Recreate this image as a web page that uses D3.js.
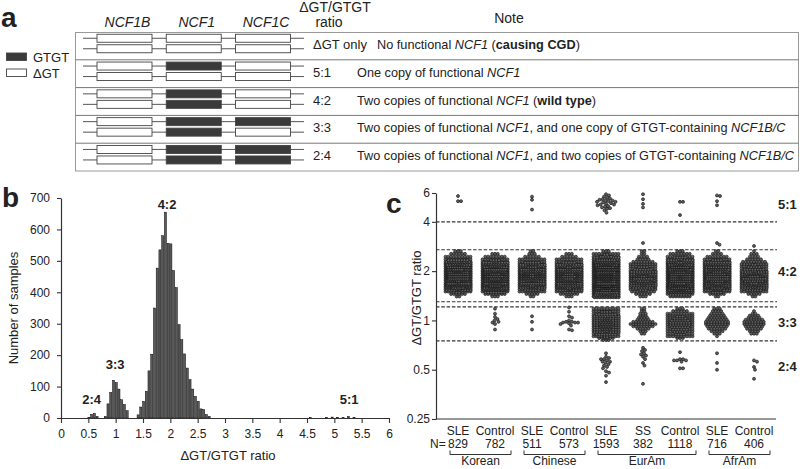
<!DOCTYPE html>
<html><head><meta charset="utf-8">
<script src="https://cdn.jsdelivr.net/npm/d3@7"></script>
<style>
html,body{margin:0;padding:0;background:#fff;}
svg{display:block;font-family:"Liberation Sans",Arial,Helvetica,sans-serif;}
</style></head><body>
<svg id="fig" width="800" height="469"></svg>
<script>
// ================= DATA =================
// Panel a
const genes = ["NCF1B", "NCF1", "NCF1C"];
const ratioLabels = ["ΔGT only", "5:1", "4:2", "3:3", "2:4"];
const gtgtCopies = [[0,0,0],[0,1,0],[0,2,0],[0,2,1],[0,2,2]];
const legendItems = ["GTGT", "ΔGT"];
const notes = [
  [["No functional ",""],["NCF1","i"],[" (",""],["causing CGD","b"],[")",""]],
  [["One copy of functional ",""],["NCF1","i"]],
  [["Two copies of functional ",""],["NCF1","i"],[" (",""],["wild type","b"],[")",""]],
  [["Two copies of functional ",""],["NCF1","i"],[", and one copy of GTGT-containing ",""],["NCF1B/C","i"]],
  [["Two copies of functional ",""],["NCF1","i"],[", and two copies of GTGT-containing ",""],["NCF1B/C","i"]]
];

// Panel b (histogram, bins of 0.05)
const histRatio = [0.51,0.56,0.61,0.66,
  0.81,0.86,0.91,0.96,1.01,1.06,1.11,1.16,1.21,
  1.41,1.46,1.51,1.56,1.61,1.66,1.71,1.76,1.81,1.86,1.91,1.96,2.01,2.06,2.11,2.16,2.21,2.26,2.31,2.36,2.41,2.46,2.51,2.56,2.61,2.66,2.71,
  4.56,4.86,4.96,5.06,5.16,5.26,5.36];
const histCount = [2,12,15,5,
  5,45,81,120,113,92,58,43,23,
  10,35,53,85,150,203,350,477,535,580,655,556,554,469,415,297,249,204,159,122,92,69,53,29,27,11,5,
  1,2,3,2,1,5,2];
const histXTicks = [0,0.5,1,1.5,2,2.5,3,3.5,4,4.5,5,5.5,6];
const histYTicks = [0,100,200,300,400,500,600,700];
const histLabels = ["2:4","3:3","4:2","5:1"];
const histLabelRatio = [0.56, 0.99, 1.94, 5.27];
const histLabelCount = [43, 156, 665, 43];

// Panel c
const groupLabels = ["SLE","Control","SLE","Control","SLE","SS","Control","SLE","Control"];
const sampleN = [829,782,511,573,1593,382,1118,716,406];
const cohorts = ["Korean","Chinese","EurAm","AfrAm"];
const cohortFirst = [0,2,4,7];
const cohortLast = [1,3,6,8];
const yTicksC = [0.25,0.5,1,2,4,6];
const cutoffs = [4, 2.7, 1.3, 1.21, 0.75];
const bandLabels = ["5:1","4:2","3:3","2:4"];
const bandLabelRatio = [5.08, 2.0, 0.97, 0.52];

// rows of the 4:2 swarms (ratio levels) and counts per group
const levels42 = [1.40,1.45,1.50,1.55,1.60,1.65,1.70,1.76,1.82,1.88,1.94,2.00,2.07,2.14,2.21,2.28,2.36,2.45,2.55,2.65];
const koreanSLE42   = [2,6,12,22,35,50,62,72,80,80,80,85,75,60,45,30,18,10,6,3];
const koreanCtl42   = [3,8,18,30,45,55,65,70,75,78,75,70,60,45,30,22,14,8,3,0];
const chineseSLE42  = [2,5,10,16,24,32,40,45,50,52,52,48,42,34,24,16,10,6,3,2];
const chineseCtl42  = [3,7,14,22,32,40,46,50,54,56,54,50,42,32,22,15,10,6,3,0];
const eurSLE42      = [30,45,60,75,85,95,100,105,110,110,108,100,90,78,65,50,38,25,12,3];
const eurSS42       = [3,6,9,13,18,22,28,35,38,32,25,20,17,14,10,8,5,4,2,2];
const eurCtl42      = [8,18,30,45,58,68,75,80,82,82,80,75,68,58,45,32,22,15,8,3];
const afrSLE42      = [2,6,14,24,35,45,52,56,60,60,58,54,48,40,30,20,14,8,4,2];
const afrCtl42      = [2,5,10,16,22,27,33,38,40,34,27,22,18,15,12,9,6,4,3,1];
// rows of the 3:3 swarms
const levels33 = [0.76,0.78,0.80,0.83,0.86,0.89,0.92,0.95,0.98,1.01,1.04,1.07,1.10,1.14,1.18];
const eurSLE33 = [3,6,12,18,22,24,25,26,25,24,22,20,18,14,10];
const eurSS33  = [0,0,0,2,3,5,8,10,8,5,4,3,3,2,2];
const eurCtl33 = [0,3,10,14,15,16,17,18,18,17,15,13,10,6,3];
const afrSLE33 = [0,0,1,3,5,7,8,9,9,8,7,6,5,4,3];
const afrCtl33 = [0,0,0,3,4,6,7,8,8,7,5,4,2,1,0];
const none33   = [0,0,0,0,0,0,0,0,0,0,0,0,0,0,0];
// individual (sparse) points: 5:1, outliers, 2:4 and small 3:3 groups
const koreanSLEpts  = [5.75,5.35,5.35];
const koreanCtlpts  = [1.18,1.1,1.05,1.02,1.0,0.98,0.97,0.95,0.88];
const chineseSLEpts = [5.7,5.45,4.75,1.06,0.98,0.88];
const chineseCtlpts = [1.2,1.13,1.06,1.04,1.0,0.98,0.98,0.97,0.97,0.97,0.96,0.95,0.93,0.88,0.87];
const eurSLEpts = [5.9,5.8,5.7,5.6,5.55,5.5,5.45,5.4,5.4,5.35,5.3,5.3,5.25,5.2,5.15,5.1,5.1,5.05,5.0,4.95,4.9,4.85,4.8,4.7,4.55,
  0.63,0.60,0.59,0.58,0.58,0.57,0.56,0.56,0.55,0.54,0.53,0.52,0.51,0.49,0.48,0.46,0.42];
const eurSSpts  = [5.9,5.5,5.15,4.9,2.97,0.68,0.66,0.65,0.63,0.62,0.61,0.60,0.58,0.55,0.53,0.41];
const eurCtlpts = [5.3,5.3,4.4,0.64,0.58,0.58,0.57,0.57,0.57,0.56,0.51,0.51];
const afrSLEpts = [5.8,5.75,5.35,5.05,2.97,2.9,0.63,0.55,0.50];
const afrCtlpts = [2.85,0.57,0.56,0.52,0.50,0.44];

const counts42 = [koreanSLE42,koreanCtl42,chineseSLE42,chineseCtl42,eurSLE42,eurSS42,eurCtl42,afrSLE42,afrCtl42];
const counts33 = [none33,none33,none33,none33,eurSLE33,eurSS33,eurCtl33,afrSLE33,afrCtl33];
const sparsePts = [koreanSLEpts,koreanCtlpts,chineseSLEpts,chineseCtlpts,eurSLEpts,eurSSpts,eurCtlpts,afrSLEpts,afrCtlpts];

// ================= DRAW =================
const svg = d3.select("#fig");
const ink = "#222";
const axisCol = "#333";
svg.append("rect").attr("width",800).attr("height",469).attr("fill","#fff");

function panelLetter(t, x, y) {
  svg.append("text").attr("x", x).attr("y", y).attr("font-size", 28)
    .attr("font-weight", "bold").attr("fill", ink).text(t);
}

// ---------- Panel a ----------
panelLetter("a", 1, 27);
const ga = svg.append("g");
const gx = d3.scalePoint().domain(genes).range([124.5, 263]);
const rowB = d3.scaleBand().domain(d3.range(ratioLabels.length)).range([32, 171]);
const boxW = 55, boxH = 8;

genes.forEach(g => {
  ga.append("text").attr("x", gx(g) + 3).attr("y", 27).attr("text-anchor", "middle")
    .attr("font-size", 14).attr("font-style", "italic").attr("fill", ink).text(g);
});
ga.append("text").attr("x", 335).attr("y", 12).attr("text-anchor", "middle")
  .attr("font-size", 14).attr("fill", ink).text("ΔGT/GTGT");
ga.append("text").attr("x", 329).attr("y", 27).attr("text-anchor", "middle")
  .attr("font-size", 14).attr("fill", ink).text("ratio");
ga.append("text").attr("x", 509).attr("y", 23).attr("text-anchor", "middle")
  .attr("font-size", 14).attr("fill", ink).text("Note");

// legend
legendItems.forEach((t, i) => {
  const y = i === 0 ? 53 : 69;
  ga.append("rect").attr("x", 6.5).attr("y", y).attr("width", 20).attr("height", 7.5)
    .attr("fill", i === 0 ? "#3a3a3a" : "#fff").attr("stroke", "#444").attr("stroke-width", 0.9);
  ga.append("text").attr("x", 33).attr("y", y + 9).attr("font-size", 13).attr("fill", ink).text(t);
});

// table frame
ga.append("rect").attr("x", 75.5).attr("y", 32.5).attr("width", 723).attr("height", 138.5)
  .attr("fill", "none").attr("stroke", "#999").attr("stroke-width", 1);
d3.range(1, ratioLabels.length).forEach(i => {
  ga.append("line").attr("x1", 75.5).attr("x2", 798.5).attr("y1", rowB(i)).attr("y2", rowB(i))
    .attr("stroke", "#777").attr("stroke-width", 1);
});

const noteNodes = [];
ratioLabels.forEach((lab, i) => {
  const top = rowB(i);
  const yc = top + 11.5;
  [yc - 5.25, yc + 5.25].forEach((ly, copy) => {
    ga.append("line").attr("x1", 83).attr("x2", 304).attr("y1", ly).attr("y2", ly)
      .attr("stroke", "#555").attr("stroke-width", 1);
    genes.forEach((g, gi) => {
      const dark = gtgtCopies[i][gi] > copy;
      ga.append("rect").attr("x", gx(g) - boxW / 2).attr("y", ly - boxH / 2)
        .attr("width", boxW).attr("height", boxH)
        .attr("fill", dark ? "#3a3a3a" : "#fff").attr("stroke", "#444").attr("stroke-width", 0.9);
    });
  });
  ga.append("text").attr("x", 313).attr("y", top + 17).attr("font-size", 13).attr("fill", ink).text(lab);
  const t = ga.append("text").attr("x", 0).attr("y", 0)
    .attr("font-size", 13).attr("fill", ink).style("white-space", "pre");
  notes[i].forEach(([s, st]) => {
    t.append("tspan").text(s)
      .attr("font-style", st === "i" ? "italic" : null)
      .attr("font-weight", st === "b" ? "bold" : null);
  });
  noteNodes.push({t, x: i === 0 ? 377 : 357, y: top + 17});
});
// fit the longest note into the table (it ends at x = 794 in the reference)
const longest = d3.max(noteNodes, n => n.t.node().getComputedTextLength());
const sx = Math.min(1, (794 - 357) / longest);
noteNodes.forEach(n => n.t.attr("transform", `translate(${n.x},${n.y}) scale(${sx},1)`));

// ---------- Panel b ----------
panelLetter("b", 2, 207);
const gb = svg.append("g");
const xb = d3.scaleLinear().domain([0, 6]).range([61, 389]);
const yb = d3.scaleLinear().domain([0, 700]).range([418, 198]);

gb.selectAll("rect.bar").data(histRatio).join("rect").attr("class", "bar")
  .attr("x", (d) => xb(d) - 1.05).attr("width", 2.1)
  .attr("y", (d, i) => yb(histCount[i]))
  .attr("height", (d, i) => yb(0) - yb(histCount[i]))
  .attr("fill", "#5a5a5a").attr("stroke", "#000").attr("stroke-width", 0.45);

const axB = gb.append("g").attr("transform", `translate(0,${yb(0)})`)
  .call(d3.axisBottom(xb).tickValues(histXTicks).tickFormat(d3.format("~g"))
    .tickSize(5).tickSizeOuter(0).tickPadding(6));
const ayB = gb.append("g").attr("transform", `translate(${xb(0)},0)`)
  .call(d3.axisLeft(yb).tickValues(histYTicks).tickSize(4).tickSizeOuter(0).tickPadding(7));
[axB, ayB].forEach(a => {
  a.selectAll("path").attr("stroke", axisCol).attr("stroke-width", 1.2);
  a.selectAll("line").attr("stroke", axisCol).attr("stroke-width", 1.1);
  a.selectAll("text").attr("font-size", 12).attr("fill", ink)
    .attr("font-family", "'Liberation Sans',Arial,sans-serif");
});
gb.append("text").attr("x", 228).attr("y", 459.5).attr("text-anchor", "middle")
  .attr("font-size", 13).attr("fill", ink).text("ΔGT/GTGT ratio");
gb.append("text").attr("transform", "translate(18,308) rotate(-90)").attr("text-anchor", "middle")
  .attr("font-size", 13).attr("fill", ink).text("Number of samples");
histLabels.forEach((t, i) => {
  gb.append("text").attr("x", xb(histLabelRatio[i])).attr("y", yb(histLabelCount[i]))
    .attr("text-anchor", "middle").attr("font-size", 13).attr("font-weight", "bold")
    .attr("fill", ink).text(t);
});

// ---------- Panel c ----------
panelLetter("c", 386, 213);
const gc = svg.append("g");
const yC = d3.scaleLog().base(2).domain([0.25, 6]).range([419, 193]);
const xC = d3.scalePoint().domain(d3.range(groupLabels.length)).range([458, 754]);
const xLeft = 436, xRight = 776;

cutoffs.forEach(c => {
  gc.append("line").attr("x1", xLeft).attr("x2", 777).attr("y1", yC(c)).attr("y2", yC(c))
    .attr("stroke", "#333").attr("stroke-width", 1.1).attr("stroke-dasharray", "3.5,1.8");
});

const W = 25, cap = 10, rr = 1.5;
function rowPoints(levels, counts, x0) {
  const pts = [];
  levels.forEach((lv, i) => {
    let n = counts[i];
    if (!n) return;
    const y = yC(lv);
    let k = 0;
    while (n > 0) {
      const m = Math.min(cap, n);
      const w = W * Math.max(0.5, 1 - 0.04 * k);
      const sp = w / (cap - 1);
      const shift = (k % 2 && m === cap) ? sp / 2 : 0;
      const dy = (k % 2) ? 0.8 : 0;
      for (let j = 0; j < m; j++) pts.push([x0 - (m - 1) * sp / 2 + j * sp + shift - (shift ? sp / 2 : 0) * 0.5, y + dy]);
      n -= m; k++;
    }
  });
  return pts;
}
function swarmPoints(values, x0) {
  const placed = [];
  values.slice().sort((a, b) => b - a).forEach(v => {
    const y = yC(v);
    for (let k = 0; k < 200; k++) {
      const offs = k === 0 ? [0] : [k * 0.5, -k * 0.5];
      let ok = null;
      for (const o of offs) {
        if (placed.every(p => Math.hypot(p[0] - (x0 + o), p[1] - y) >= 2.9)) { ok = o; break; }
      }
      if (ok !== null) { placed.push([x0 + ok, y]); break; }
    }
  });
  return placed;
}

groupLabels.forEach((g, gi) => {
  const x0 = xC(gi);
  const pts = rowPoints(levels42, counts42[gi], x0)
    .concat(rowPoints(levels33, counts33[gi], x0))
    .concat(swarmPoints(sparsePts[gi], x0));
  gc.append("g").selectAll("circle").data(pts).join("circle")
    .attr("cx", d => d[0]).attr("cy", d => d[1]).attr("r", rr)
    .attr("fill", "#606060").attr("stroke", "#141414").attr("stroke-width", 0.65);
});

const ayC = gc.append("g").attr("transform", `translate(${xLeft},0)`)
  .call(d3.axisLeft(yC).tickValues(yTicksC).tickFormat(d => String(d)).tickSize(4).tickSizeOuter(0).tickPadding(2));
ayC.selectAll("path").attr("stroke", axisCol).attr("stroke-width", 1.2);
ayC.selectAll("line").attr("stroke", axisCol).attr("stroke-width", 1.1);
ayC.selectAll("text").attr("font-size", 12).attr("fill", ink)
  .attr("font-family", "'Liberation Sans',Arial,sans-serif");
gc.append("line").attr("x1", xLeft).attr("x2", xRight).attr("y1", yC(0.25)).attr("y2", yC(0.25))
  .attr("stroke", axisCol).attr("stroke-width", 1.2);

gc.append("text").attr("transform", "translate(421,298) rotate(-90)").attr("text-anchor", "middle")
  .attr("font-size", 13).attr("fill", ink).text("ΔGT/GTGT ratio");

bandLabels.forEach((t, i) => {
  gc.append("text").attr("x", 778).attr("y", yC(bandLabelRatio[i])).attr("dy", "0.35em")
    .attr("font-size", 13).attr("font-weight", "bold").attr("fill", ink).text(t);
});

groupLabels.forEach((g, gi) => {
  gc.append("text").attr("x", xC(gi)).attr("y", 435).attr("text-anchor", "middle")
    .attr("font-size", 12).attr("fill", ink).text(g);
  gc.append("text").attr("x", xC(gi)).attr("y", 448).attr("text-anchor", "middle")
    .attr("font-size", 12).attr("fill", ink).text(sampleN[gi]);
});
gc.append("text").attr("x", 430).attr("y", 448).attr("font-size", 12).attr("fill", ink).text("N=");

cohorts.forEach((c, ci) => {
  const x1 = xC(cohortFirst[ci]) - 8, x2 = xC(cohortLast[ci]) + 16;
  gc.append("path").attr("d", `M${x1},450.5V454.5H${x2}V450.5`)
    .attr("fill", "none").attr("stroke", axisCol).attr("stroke-width", 1);
  gc.append("text").attr("x", (x1 + x2) / 2).attr("y", 465).attr("text-anchor", "middle")
    .attr("font-size", 12).attr("fill", ink).text(c);
});
</script>
</body></html>
